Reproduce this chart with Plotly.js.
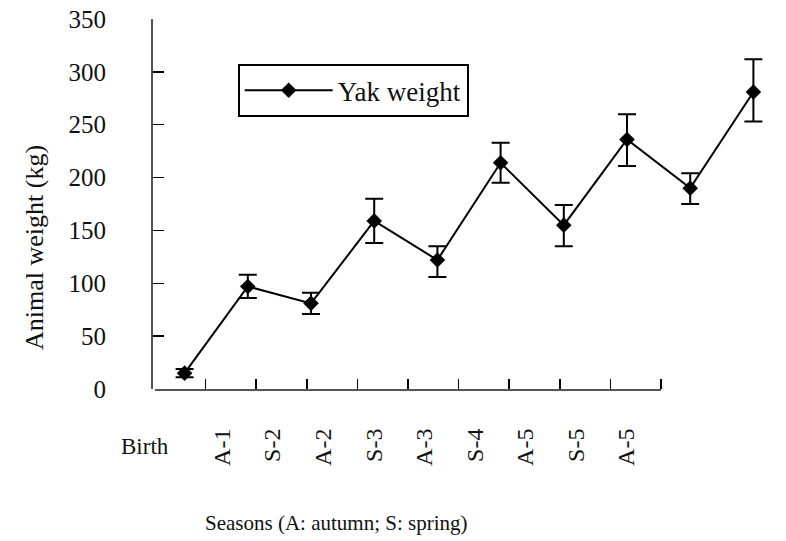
<!DOCTYPE html>
<html>
<head>
<meta charset="utf-8">
<script src="https://cdn.plot.ly/plotly-3.0.1.min.js"></script>
<style>html,body{margin:0;padding:0;background:#fff;}#chart{width:786px;height:541px;}</style>
</head>
<body>
<div id="chart"></div>
<script>
// Data
const seasons = ["Birth", "A-1", "S-2", "A-2", "S-3", "A-3", "S-4", "A-5", "S-5", "A-5"];
const weight = [15, 97, 81, 159, 122, 214, 155, 236, 190, 281];
const errorPlus = [4, 11, 10, 21, 13, 19, 19, 24, 14, 31];
const errorMinus = [4, 11, 10, 21, 16, 19, 20, 25, 15, 28];
const yTicks = [0, 50, 100, 150, 200, 250, 300, 350];
const xTitle = "Seasons (A: autumn; S: spring)";
const yTitle = "Animal weight (kg)";
const seriesName = "Yak weight";

const FONT = "Liberation Serif, Times New Roman, serif";
const idx = seasons.map((s, i) => i);

const traces = [
  {
    x: idx,
    y: weight,
    xaxis: "x",
    yaxis: "y",
    name: seriesName,
    type: "scatter",
    mode: "lines+markers",
    line: {color: "#000", width: 2},
    marker: {symbol: "diamond", size: 12, color: "#000"},
    error_y: {type: "data", symmetric: false, array: errorPlus, arrayminus: errorMinus,
              color: "#000", thickness: 2, width: 9},
    hoverinfo: "x+y"
  },
  {
    // carries the category (label) axis
    x: idx,
    y: weight,
    xaxis: "x2",
    yaxis: "y",
    type: "scatter",
    mode: "markers",
    marker: {opacity: 0},
    showlegend: false,
    hoverinfo: "skip"
  }
];

const layout = {
  width: 786,
  height: 541,
  margin: {l: 153, r: 1, t: 19, b: 152},
  paper_bgcolor: "#fff",
  plot_bgcolor: "rgba(0,0,0,0)",
  font: {family: FONT, color: "#111", size: 25},
  showlegend: true,
  legend: {
    x: 0.134, y: 0.878, xanchor: "left", yanchor: "top",
    bordercolor: "#000", borderwidth: 2, bgcolor: "#fff",
    font: {family: FONT, size: 27, color: "#111"},
    itemwidth: 88
  },
  xaxis: {
    domain: [0, 1],
    range: [-0.5, seasons.length - 0.5],
    showline: false, showgrid: false, zeroline: false,
    showticklabels: false, ticks: "",
    anchor: "y"
  },
  xaxis2: {
    domain: [0.0032, 0.8038],
    anchor: "y",
    range: [-0.5, seasons.length - 0.5],
    showline: true, linecolor: "#555", linewidth: 2,
    showgrid: false, zeroline: false,
    tickmode: "array",
    tickvals: idx.slice(1),
    ticktext: seasons.slice(1),
    ticks: "",
    tickangle: -90,
    ticklabelstandoff: 28,
    ticklabelshift: -9,
    tickfont: {family: FONT, size: 24, color: "#111"},
    minor: {
      tickmode: "array",
      tickvals: idx.map(i => i + 0.5),
      ticks: "inside", ticklen: 10, tickwidth: 1.5, tickcolor: "#000", showgrid: false
    }
  },
  yaxis: {
    anchor: "x",
    range: [0, 350],
    tickmode: "array",
    tickvals: yTicks,
    ticks: "inside", ticklen: 11, tickwidth: 1.5, tickcolor: "#000",
    showline: true, linecolor: "#555", linewidth: 2,
    showgrid: false, zeroline: false,
    ticklabelstandoff: 40,
    tickfont: {family: FONT, size: 25, color: "#111"}
  },
  annotations: [
    {
      text: seasons[0], xref: "x2", yref: "paper", x: 0, y: -0.155,
      xanchor: "right", yanchor: "middle", xshift: -9, showarrow: false,
      font: {family: FONT, size: 23, color: "#111"}
    },
    {
      text: xTitle, xref: "paper", yref: "paper", x: (336 - 153) / 632, y: -0.362,
      xanchor: "center", yanchor: "middle", showarrow: false,
      font: {family: FONT, size: 21, color: "#111"}
    },
    {
      text: yTitle, xref: "paper", yref: "paper", x: (34 - 153) / 632, y: (389 - 248) / 370,
      xanchor: "center", yanchor: "middle", textangle: -90, showarrow: false,
      font: {family: FONT, size: 26, color: "#111"}
    }
  ]
};

Plotly.newPlot("chart", traces, layout, {displayModeBar: false, staticPlot: true});
</script>
</body>
</html>
